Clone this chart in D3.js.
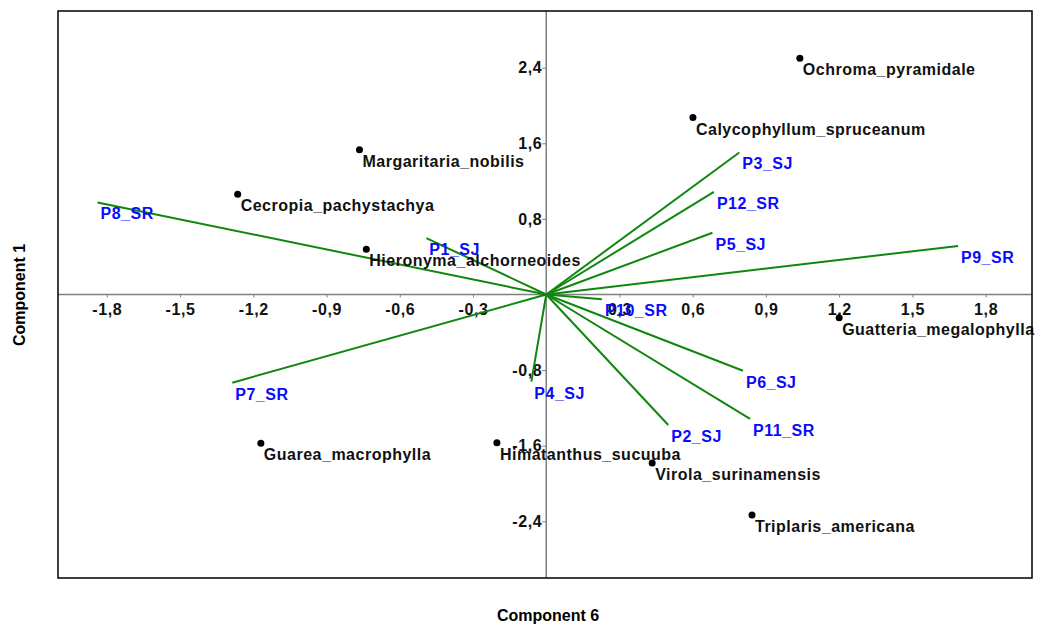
<!DOCTYPE html>
<html>
<head>
<meta charset="utf-8">
<script src="https://cdn.jsdelivr.net/npm/d3@7"></script>
<style>
  body { margin: 0; background: #fff; }
  text { font-family: "Liberation Sans", Arial, sans-serif; }
</style>
</head>
<body>
<svg id="chart" width="1037" height="625"></svg>
<script>
// species scores (component 6, component 1)
var species = ["Ochroma_pyramidale", "Calycophyllum_spruceanum", "Margaritaria_nobilis",
    "Cecropia_pachystachya", "Hieronyma_alchorneoides", "Guatteria_megalophylla",
    "Guarea_macrophylla", "Himatanthus_sucuuba", "Virola_surinamensis", "Triplaris_americana"];
var speciesX = [1.039, 0.601, -0.765, -1.264, -0.737, 1.200, -1.169, -0.202, 0.434, 0.843];
var speciesY = [2.500, 1.873, 1.533, 1.060, 0.480, -0.245, -1.575, -1.568, -1.784, -2.333];

// variable loadings (arrows)
var vars = ["P8_SR", "P7_SR", "P1_SJ", "P4_SJ", "P3_SJ", "P12_SR",
    "P5_SJ", "P9_SR", "P10_SR", "P6_SJ", "P11_SR", "P2_SJ"];
var varX = [-1.838, -1.286, -0.491, -0.061, 0.791, 0.687, 0.681, 1.687, 0.228, 0.806, 0.835, 0.500];
var varY = [0.974, -0.933, 0.597, -0.922, 1.503, 1.086, 0.653, 0.514, -0.049, -0.807, -1.317, -1.381];

var xTicks = [-1.8, -1.5, -1.2, -0.9, -0.6, -0.3, 0.3, 0.6, 0.9, 1.2, 1.5, 1.8];
var yTicks = [-2.4, -1.6, -0.8, 0.8, 1.6, 2.4];

var svg = d3.select("#chart");
var plotLeft = 58, plotRight = 1032, plotTop = 11, plotBottom = 578;

var x = d3.scaleLinear().domain([-2.0, 1.99]).range([plotLeft, plotRight]);
var y = d3.scaleLinear().domain([-3, 3]).range([plotBottom, plotTop]);
var fmt = function(d) { return d3.format(".1f")(d).replace(".", ",").replace("−", "-"); };

// zero lines
svg.append("line")
    .attr("x1", plotLeft).attr("x2", plotRight)
    .attr("y1", y(0)).attr("y2", y(0))
    .attr("stroke", "#808080").attr("stroke-width", 1.5);
svg.append("line")
    .attr("x1", x(0)).attr("x2", x(0))
    .attr("y1", plotTop).attr("y2", plotBottom)
    .attr("stroke", "#808080").attr("stroke-width", 1.5);

// x axis ticks on the zero line
var xAxis = svg.append("g")
    .attr("transform", "translate(0," + y(0) + ")")
    .call(d3.axisBottom(x).tickValues(xTicks).tickSize(3).tickFormat(fmt));
xAxis.select(".domain").remove();
xAxis.selectAll("line").attr("stroke", "#808080");
xAxis.selectAll("text")
    .attr("y", 9)
    .attr("fill", "#111")
    .style("font-size", "16px")
    .style("font-weight", "bold")
    .style("letter-spacing", "0.6px")
    .style("font-family", "'Liberation Sans', Arial, sans-serif");

// y axis ticks on the zero line
var yAxis = svg.append("g")
    .attr("transform", "translate(" + x(0) + ",0)")
    .call(d3.axisLeft(y).tickValues(yTicks).tickSize(4).tickFormat(fmt));
yAxis.select(".domain").remove();
yAxis.selectAll("line").attr("stroke", "#808080");
yAxis.selectAll("text")
    .attr("x", -4)
    .attr("fill", "#111")
    .style("font-size", "16px")
    .style("font-weight", "bold")
    .style("letter-spacing", "0.6px")
    .style("font-family", "'Liberation Sans', Arial, sans-serif");

// loadings
var vdata = vars.map(function(v, i) { return {name: v, x: varX[i], y: varY[i]}; });
svg.append("g").selectAll("line")
    .data(vdata).enter()
    .append("line")
    .attr("x1", x(0)).attr("y1", y(0))
    .attr("x2", function(d) { return x(d.x); })
    .attr("y2", function(d) { return y(d.y); })
    .attr("stroke", "#0f870f")
    .attr("stroke-width", 2);

// species points
var sdata = species.map(function(s, i) { return {name: s, x: speciesX[i], y: speciesY[i]}; });
svg.append("g").selectAll("circle")
    .data(sdata).enter()
    .append("circle")
    .attr("cx", function(d) { return x(d.x); })
    .attr("cy", function(d) { return y(d.y); })
    .attr("r", 3.5)
    .attr("fill", "#000");

svg.append("g").selectAll("text")
    .data(sdata).enter()
    .append("text")
    .attr("x", function(d) { return x(d.x) + 3; })
    .attr("y", function(d) { return y(d.y) + 17; })
    .attr("fill", "#111")
    .style("font-size", "16px")
    .style("font-weight", "bold")
    .style("letter-spacing", "0.5px")
    .text(function(d) { return d.name; });

svg.append("g").selectAll("text")
    .data(vdata).enter()
    .append("text")
    .attr("x", function(d) { return x(d.x) + 3; })
    .attr("y", function(d) { return y(d.y) + 17; })
    .attr("fill", "#0a0aff")
    .style("font-size", "16px")
    .style("font-weight", "bold")
    .style("letter-spacing", "0.5px")
    .text(function(d) { return d.name; });

// frame
svg.append("rect")
    .attr("x", plotLeft).attr("y", plotTop)
    .attr("width", plotRight - plotLeft).attr("height", plotBottom - plotTop)
    .attr("fill", "none").attr("stroke", "#000").attr("stroke-width", 1.5);

// axis titles
svg.append("text")
    .attr("x", 548).attr("y", 621)
    .attr("text-anchor", "middle")
    .style("font-size", "16px").style("font-weight", "bold")
    .text("Component 6");
svg.append("text")
    .attr("transform", "translate(25,295) rotate(-90)")
    .attr("text-anchor", "middle")
    .style("font-size", "16px").style("font-weight", "bold")
    .text("Component 1");
</script>
</body>
</html>
